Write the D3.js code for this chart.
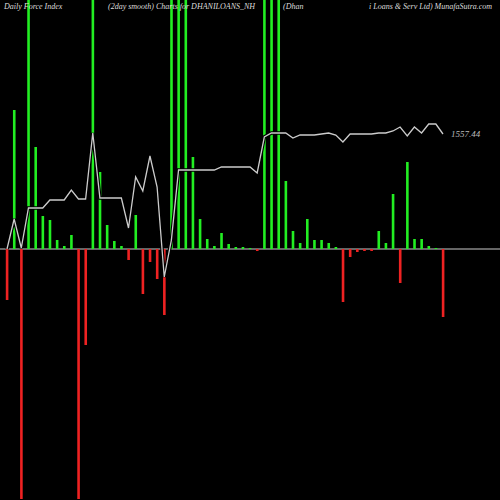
<!DOCTYPE html>
<html><head><meta charset="utf-8">
<script src="https://cdn.jsdelivr.net/npm/d3@7"></script>
<style>body{margin:0;background:#000}</style>
</head><body><div id="chart"></div>
<script>
// force index (2 day smooth), positive = up bars, negative = down bars
var force = [-51,139,-250,260,102,33,29,9,3,14,-250,-96,260,77,24,8,3,-11,34,-45,-13,-30,-66,260,260,260,92,30,10,3,16,5,2,2,1,-2,
  260,260,260,68,18,6,30,9,9,6,2,-53,-8,-3,-2,-2,18,6,55,-34,87,10,10,3,1,-68];
// smoothed price line (same vertical units)
var line = [0,30,1,41,41,41,49,49,49,59,50,50,116,51,51,51,51,21,72,58,93,62,-28,9,
  79,79,79,79,79,79,82,82,82,82,82,76,
  112,116,116,116,111,114,114,114,115,116,114,107,115,115,115,115,
  116,116,118,122,113,122,116,125,125,115];
var lastLabel = "1557.44";

var W = 500, H = 500;
var svg = d3.select("#chart").append("svg").attr("width", W).attr("height", H)
  .style("background", "#000");

var x = d3.scaleLinear().domain([0, force.length - 1]).range([7, 443]);
var y = d3.scaleLinear().domain([-251, 249]).range([500, 0]);

svg.append("line").attr("x1", 0).attr("x2", W).attr("y1", y(0)).attr("y2", y(0))
  .attr("stroke", "#888").attr("stroke-width", 1.5);

svg.selectAll("rect.bar").data(force).enter().append("rect")
  .attr("class", "bar")
  .attr("x", function(d, i){ return x(i) - 1.2; })
  .attr("width", 2.6)
  .attr("y", function(d){ return d > 0 ? y(d) : y(0); })
  .attr("height", function(d){ return Math.abs(y(d) - y(0)); })
  .attr("fill", function(d){ return d > 0 ? "#22ee22" : "#ee2222"; });

var ln = d3.line().x(function(d, i){ return x(i); }).y(function(d){ return y(d); });
svg.append("path").datum(line).attr("d", ln)
  .attr("fill", "none").attr("stroke", "#000").attr("stroke-width", 3.5);
svg.append("path").datum(line).attr("d", ln)
  .attr("fill", "none").attr("stroke", "#ccc").attr("stroke-width", 1.3);

svg.append("text").attr("x", 451).attr("y", y(line[line.length - 1]) + 3)
  .attr("fill", "#bbb").style("font", "italic 9px 'Liberation Serif', serif").text(lastLabel);

var heads = [[4, "Daily Force  Index"], [108, "(2day smooth) Charts for DHANILOANS_NH"],
  [283, "(Dhan"], [369, "i  Loans & Serv   Ltd) MunafaSutra.com"]];
svg.selectAll("text.h").data(heads).enter().append("text").attr("class", "h")
  .attr("x", function(d){ return d[0]; }).attr("y", 9)
  .attr("fill", "#ddd").style("font", "italic 8px 'Liberation Serif', serif")
  .text(function(d){ return d[1]; });
</script></body></html>
